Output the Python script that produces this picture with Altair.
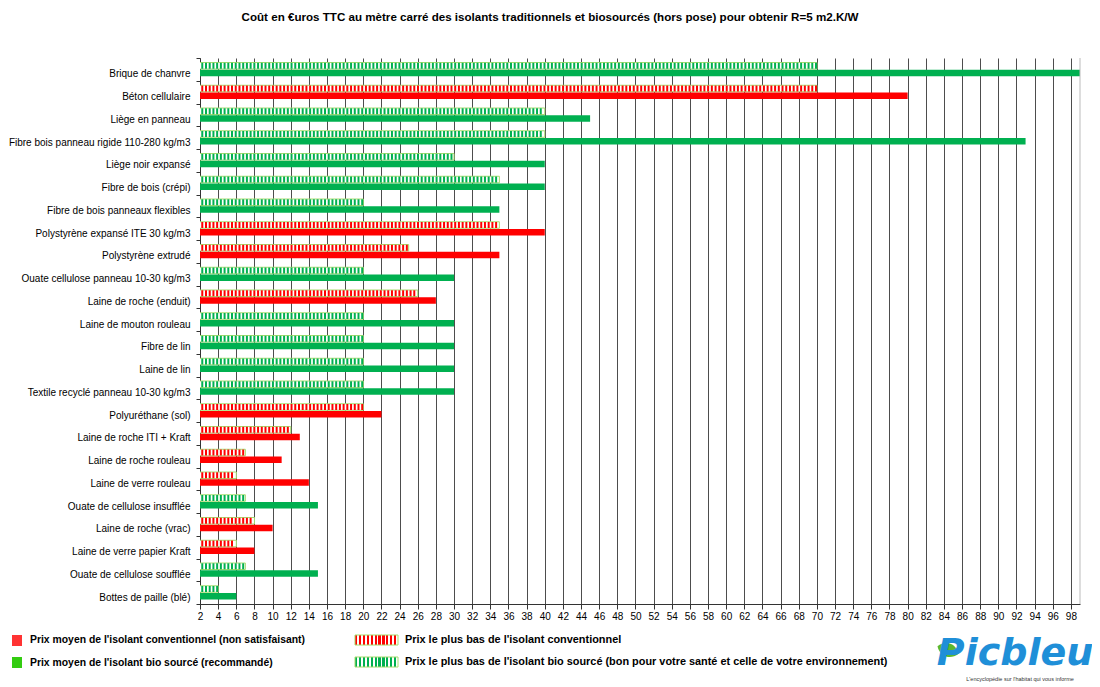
import altair as alt
import pandas as pd

categories = [
    "Brique de chanvre", "Béton cellulaire", "Liège en panneau",
    "Fibre bois panneau rigide 110-280 kg/m3", "Liège noir expansé",
    "Fibre de bois (crépi)", "Fibre de bois panneaux flexibles",
    "Polystyrène expansé ITE 30 kg/m3", "Polystyrène extrudé",
    "Ouate cellulose panneau 10-30 kg/m3", "Laine de roche (enduit)",
    "Laine de mouton rouleau", "Fibre de lin", "Laine de lin",
    "Textile recyclé panneau 10-30 kg/m3", "Polyuréthane (sol)",
    "Laine de roche ITI + Kraft", "Laine de roche rouleau",
    "Laine de verre rouleau", "Ouate de cellulose insufflée",
    "Laine de roche (vrac)", "Laine de verre papier Kraft",
    "Ouate de cellulose soufflée", "Bottes de paille (blé)",
]
low_price = [70, 70, 40, 40, 30, 35, 20, 35, 25, 20, 26, 20, 20, 20, 20, 20, 12, 7, 6, 7, 8, 6, 7, 4]
avg_price = [100, 80, 45, 93, 40, 40, 35, 40, 35, 30, 28, 30, 30, 30, 30, 22, 13, 11, 14, 15, 10, 8, 15, 6]
kind = ["bio", "conv", "bio", "bio", "bio", "bio", "bio", "conv", "conv", "bio", "conv", "bio",
        "bio", "bio", "bio", "conv", "conv", "conv", "conv", "bio", "conv", "conv", "bio", "bio"]
x_ticks = list(range(2, 99, 2))

title_text = "Coût en €uros TTC au mètre carré des isolants traditionnels et biosourcés (hors pose) pour obtenir R=5 m2.K/W"
legend_labels = [
    "Prix moyen de l'isolant conventionnel (non satisfaisant)",
    "Prix moyen de l'isolant bio sourcé (recommandé)",
    "Prix le plus bas de l'isolant conventionnel",
    "Prix le plus bas de l'isolant bio sourcé (bon pour votre santé et celle de votre environnement)",
]

RED = "#ff0000"
GREEN = "#00b050"
FONT = "Liberation Sans"

df = pd.DataFrame({"category": categories, "low": low_price, "avg": avg_price, "kind": kind})
one = pd.DataFrame({"a": [1]})

xscale = alt.Scale(domain=[2, 99], zero=False, nice=False)
yscale = alt.Scale(domain=categories, paddingInner=0, paddingOuter=0)
cscale = alt.Scale(domain=["conv", "bio"], range=[RED, GREEN])

xaxis = alt.Axis(values=x_ticks, tickCount=len(x_ticks), title=None, grid=True, gridColor="#4d4d4d",
                 gridWidth=1, domainColor="#333", tickColor="#333", tickSize=5,
                 labelFont=FONT, labelFontSize=10, labelColor="#000",
                 labelPadding=2, labelFlush=False, labelOverlap=False, labelBound=False)
yaxis = alt.Axis(title=None, labelFont=FONT, labelFontSize=10, labelColor="#000",
                 tickBand="extent", tickSize=4, tickColor="#333", domainColor="#333",
                 labelOffset=4.5, labelPadding=6, labelLimit=300)

Y = alt.Y("category:N", scale=yscale, sort=categories, axis=yaxis)

hatch_bg = alt.Chart(df).mark_bar(size=6.5, yOffset=-3.6, clip=True, fill="white",
                                  stroke="#a6dc6e", strokeWidth=1).encode(
    x=alt.X("low:Q", scale=xscale, axis=xaxis), y=Y)

stripes = alt.Chart(df).transform_calculate(
    s="sequence(2.25, datum.low - 0.1, 0.41)"
).transform_flatten(["s"]).mark_tick(thickness=2, size=6, yOffset=-3.6, opacity=1, clip=True).encode(
    x=alt.X("s:Q", scale=xscale, axis=xaxis),
    y=Y,
    color=alt.Color("kind:N", scale=cscale, legend=None),
)

solid = alt.Chart(df).mark_bar(size=6.5, yOffset=3.6, clip=True).encode(
    x=alt.X("avg:Q", scale=xscale, axis=xaxis),
    y=Y,
    color=alt.Color("kind:N", scale=cscale, legend=None),
)

right_edge = alt.Chart(one).mark_rule(color="#bbbbbb").encode(x=alt.datum(99))

title = alt.Chart(one).mark_text(text=title_text, font=FONT, fontSize=11.6, fontWeight="bold",
                                 color="#000").encode(x=alt.value(350), y=alt.value(-40))


def stripe_gradient(color, n=11):
    stops = []
    w = 1.0 / n
    for i in range(n):
        a = i * w
        b = a + w * 0.55
        stops += [alt.GradientStop(offset=a, color=color), alt.GradientStop(offset=b, color=color),
                  alt.GradientStop(offset=b, color="#ffffff"), alt.GradientStop(offset=a + w, color="#ffffff")]
    return alt.LinearGradient(gradient="linear", stops=stops, x1=0, x2=1, y1=0, y2=0)


def box(x1, x2, y1, y2, **kw):
    return alt.Chart(one).mark_rect(**kw).encode(
        x=alt.value(x1), x2=alt.value(x2), y=alt.value(y1), y2=alt.value(y2))


def label(txt, x, y, size):
    return alt.Chart(one).mark_text(text=txt, font=FONT, fontSize=size, fontWeight="bold",
                                    align="left", baseline="middle", color="#000").encode(
        x=alt.value(x), y=alt.value(y))


legend_layers = [
    box(-188, -178, 577, 588, color="#ff3333"),
    box(-188, -178, 599, 610, color="#33cc11"),
    box(155, 198, 577, 587, fill=stripe_gradient(RED), stroke="#a6dc6e", strokeWidth=1),
    box(155, 198, 599, 609, fill=stripe_gradient(GREEN), stroke="#a6dc6e", strokeWidth=1),
    label(legend_labels[0], -170, 582, 10.4),
    label(legend_labels[1], -170, 605, 10.4),
    label(legend_labels[2], 205, 582, 10.9),
    label(legend_labels[3], 205, 604, 10.9),
]

logo = alt.Chart(one).mark_text(text="Picbleu", font="DejaVu Sans", fontSize=38, fontWeight="bold",
                                fontStyle="italic", color="#1f8fd8").encode(
    x=alt.value(815), y=alt.value(596))
leaf = alt.Chart(one).mark_point(shape="M-1,0 C-0.5,-0.8 0.5,-0.8 1,0 C0.5,0.8 -0.5,0.8 -1,0 Z",
                                 size=500, filled=True, color="#5cb82e", opacity=1, angle=20).encode(
    x=alt.value(748), y=alt.value(592))
tagline = alt.Chart(one).mark_text(text="L'encyclopédie sur l'habitat qui vous informe", font=FONT,
                                   fontSize=5.5, color="#333").encode(x=alt.value(820), y=alt.value(621))

chart = alt.layer(hatch_bg, stripes, solid, right_edge, title, *legend_layers, leaf, logo, tagline).properties(
    width=880, height=546,
    padding={"left": 192, "top": 50, "right": 12, "bottom": 79},
    autosize=alt.AutoSizeParams(type="none"),
).configure_view(stroke=None)

chart.save("out.html", embed_options={"renderer": "svg", "actions": False})
